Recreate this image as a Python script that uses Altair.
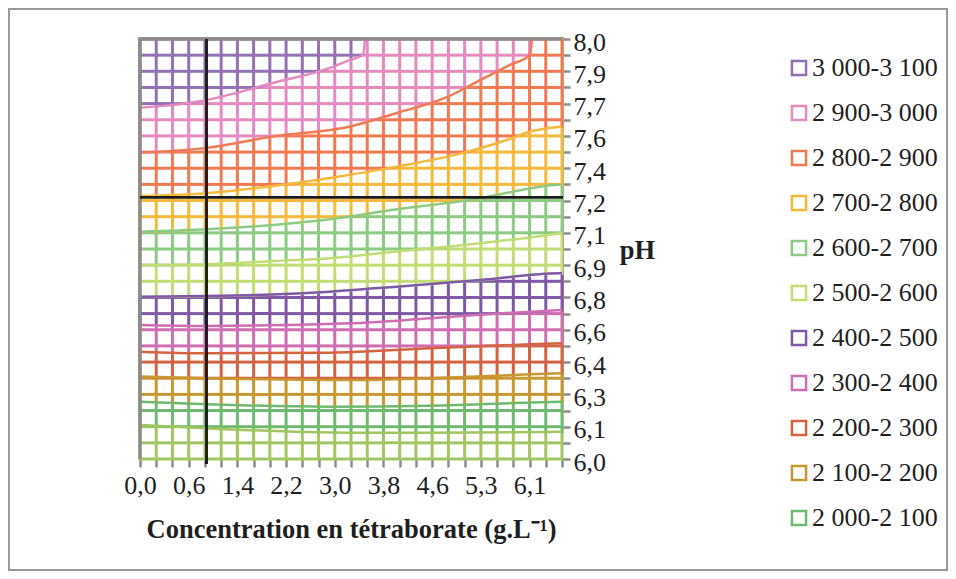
import altair as alt
import pandas as pd

# ---------------- data ----------------
# grid: 27 columns (concentration) x 27 rows (pH), labels on every 3rd column / 2nd row
x_labels = ["0,0", "0,6", "1,4", "2,2", "3,0", "3,8", "4,6", "5,3", "6,1"]
y_labels = ["6,0", "6,1", "6,3", "6,4", "6,6", "6,8", "6,9", "7,1",
            "7,2", "7,4", "7,6", "7,7", "7,9", "8,0"]
n_cols = 27
n_rows = 27

band_labels = ["2 000-2 100", "2 100-2 200", "2 200-2 300", "2 300-2 400",
               "2 400-2 500", "2 500-2 600", "2 600-2 700", "2 700-2 800",
               "2 800-2 900", "2 900-3 000", "3 000-3 100"]
band_colors = ["#6FBA6F", "#C9992F", "#D4643F", "#CF6EB0", "#7F58A6",
               "#C3DC73", "#8DCA84", "#F5BA3B", "#F27A52", "#E68BC0", "#9271B4"]
below_color = "#A3C661"

# contour boundaries (column index, row index), lowest level first
c_2000 = [0, 4.11, 12.94, 17.87, 26]
r_2000 = [2.11, 1.90, 1.63, 1.63, 1.69]
c_2100 = [0, 4.11, 11.7, 17.87, 24.03, 26]
r_2100 = [3.55, 3.39, 3.24, 3.30, 3.49, 3.55]
c_2200 = [0, 4.11, 12.94, 17.87, 24.03, 26]
r_2200 = [5.10, 5.00, 4.89, 5.00, 5.24, 5.31]
c_2300 = [0, 4.11, 11.7, 17.87, 24.03, 26]
r_2300 = [6.64, 6.54, 6.58, 6.85, 7.10, 7.16]
c_2400 = [0, 4.11, 12.94, 17.87, 22.98, 26]
r_2400 = [8.30, 8.24, 8.40, 8.71, 9.06, 9.23]
c_2500 = [0, 4.11, 8.19, 11.7, 15.82, 20.95, 25.88, 26]
r_2500 = [10.05, 10.09, 10.19, 10.36, 10.67, 11.08, 11.50, 11.50]
c_2600 = [0, 4.11, 8.19, 11.7, 15.82, 20.95, 25.88, 26]
r_2600 = [12.01, 12.06, 12.26, 12.43, 12.84, 13.36, 13.98, 14.00]
c_2700 = [0, 4.11, 8.19, 11.7, 15.82, 20.95, 22.98, 25.88, 26]
r_2700 = [14.07, 14.22, 14.49, 14.84, 15.46, 16.14, 16.55, 16.97, 16.97]
c_2800 = [0, 4.11, 8.19, 11.7, 15.82, 19.9, 22.98, 24.03, 24.83, 26]
r_2800 = [16.28, 16.45, 16.90, 17.40, 18.10, 18.95, 19.88, 20.27, 20.43, 20.58]
c_2900 = [0, 4.11, 8.19, 12.94, 15.82, 18.9, 20.95, 22.8, 24.03, 24.15]
r_2900 = [18.97, 19.26, 19.96, 20.58, 21.42, 22.40, 23.45, 24.40, 25.02, 26.0]
c_3000 = [0, 1.42, 4.11, 8.19, 11.7, 12.94, 13.74, 13.86]
r_3000 = [21.75, 21.86, 22.23, 23.28, 24.21, 24.71, 25.02, 26.0]

# reference lines (column index / row index)
ref_col = 4.1
ref_row = 16.2

# ---------------- build tables ----------------
levels = [(c_2000, r_2000), (c_2100, r_2100), (c_2200, r_2200), (c_2300, r_2300),
          (c_2400, r_2400), (c_2500, r_2500), (c_2600, r_2600), (c_2700, r_2700),
          (c_2800, r_2800), (c_2900, r_2900), (c_3000, r_3000)]

top = n_rows - 1
right = n_cols - 1

serif = "Liberation Serif"
txt = "#1f1f1f"
grey = "#8C8C8C"

x_arr = "[" + ",".join("'%s'" % s for s in x_labels) + "]"
y_arr = "[" + ",".join("'%s'" % s for s in y_labels) + "]"

x_axis = alt.Axis(
    values=list(range(n_cols)),
    labelExpr="datum.value % 3 == 0 ? " + x_arr + "[datum.value / 3] : ''",
    labelOverlap=False, labelFlush=False,
    title="Concentration en tétraborate (g.L⁻¹)",
    titleBaseline="alphabetic", titleY=78,
)
y_axis = alt.Axis(
    orient="right",
    values=list(range(n_rows)),
    labelExpr="datum.value % 2 == 0 ? " + y_arr + "[datum.value / 2] : ''",
    labelOverlap=False, labelFlush=False, labelBaseline="middle", labelOffset=3,
    title="pH", titleAngle=0,
    titleX=75, titleY=211, titleAlign="center", titleBaseline="middle",
)
xs = alt.Scale(domain=[0, right], nice=False, zero=False)
ys = alt.Scale(domain=[0, top], nice=False, zero=False)


def X(f="c"):
    return alt.X(f + ":Q", scale=xs, axis=x_axis)


def Y(f="r"):
    return alt.Y(f + ":Q", scale=ys, axis=y_axis)


layers = []

# band 0 (below 2 000) fills the whole floor
base_df = pd.DataFrame({"c": [0, right], "r": [0, 0]})
layers.append(
    alt.Chart(base_df).mark_area(color=below_color, stroke=below_color, strokeWidth=3)
    .encode(x=X(), y=Y(), y2=alt.datum(top))
)
# each higher band painted from its lower contour up to the top
for k, (cc, rr) in enumerate(levels):
    df = pd.DataFrame({"c": cc, "r": rr})
    col = band_colors[k]
    layers.append(
        alt.Chart(df).mark_area(color=col, stroke=col, strokeWidth=3, interpolate="monotone")
        .encode(x=X(), y=Y(), y2=alt.datum(top))
    )

# white cell interiors leave the grid lines in band colours
cells = pd.DataFrame([{"c": i, "c2": i + 1, "r": j, "r2": j + 1}
                      for i in range(right) for j in range(top)])
layers.append(
    alt.Chart(cells).mark_rect(color="white", xOffset=1.5, x2Offset=-1.5,
                               yOffset=-1.5, y2Offset=1.5)
    .encode(x=X(), x2="c2:Q", y=Y(), y2="r2:Q")
)

# contour lines, coloured as the band just below them
lines = []
for k, (cc, rr) in enumerate(levels):
    if k == 0:
        continue
    for c, r in zip(cc, rr):
        lines.append({"c": c, "r": r, "level": k, "band": band_labels[k - 1]})
lines_df = pd.DataFrame(lines)
legend_domain = band_labels[::-1]
legend_range = band_colors[::-1]

layers.append(
    alt.Chart(pd.DataFrame({"c": c_2000, "r": r_2000}))
    .mark_line(color=below_color, strokeWidth=2.5, interpolate="monotone")
    .encode(x=X(), y=Y())
)
layers.append(
    alt.Chart(lines_df).mark_line(strokeWidth=2.5, interpolate="monotone")
    .encode(
        x=X(), y=Y(), detail="level:N",
        stroke=alt.Stroke(
            "band:N",
            scale=alt.Scale(domain=legend_domain, range=legend_range),
            legend=alt.Legend(
                title=None, orient="none", legendX=646, legendY=16,
                direction="vertical", symbolType="square", symbolSize=200,
                symbolStrokeWidth=2.5, symbolFillColor="white",
                labelFont=serif, labelFontSize=26, labelColor=txt,
                labelOffset=0, rowPadding=19, padding=0,
            ),
        ),
    )
)

# grey walls (left and top)
layers.append(
    alt.Chart(base_df).mark_rule(color=grey, strokeWidth=3)
    .encode(x=alt.X(datum=0, scale=xs, axis=x_axis), y=alt.Y(datum=0, scale=ys, axis=y_axis),
            y2=alt.datum(top))
)
layers.append(
    alt.Chart(base_df).mark_rule(color=grey, strokeWidth=3)
    .encode(y=alt.Y(datum=top, scale=ys, axis=y_axis), x=alt.X(datum=0, scale=xs, axis=x_axis),
            x2=alt.datum(right))
)

# black reference lines
layers.append(
    alt.Chart(base_df).mark_rule(color="#1a1a1a", strokeWidth=2.5, yOffset=5)
    .encode(x=alt.X(datum=ref_col, scale=xs, axis=x_axis), y=alt.Y(datum=0, scale=ys, axis=y_axis),
            y2=alt.datum(top))
)
layers.append(
    alt.Chart(base_df).mark_rule(color="#1a1a1a", strokeWidth=2.5, x2Offset=1)
    .encode(y=alt.Y(datum=ref_row, scale=ys, axis=y_axis), x=alt.X(datum=0, scale=xs, axis=x_axis),
            x2=alt.datum(right))
)

# outer frame of the figure
layers.append(
    alt.Chart(base_df).mark_rect(fill=None, stroke="#999999", strokeWidth=2, clip=False)
    .encode(x=alt.value(-131), x2=alt.value(807), y=alt.value(-30), y2=alt.value(531))
)

chart = (
    alt.layer(*layers)
    .properties(width=422, height=420,
                autosize=alt.AutoSizeParams(type="none"),
                padding={"left": 132, "top": 31, "right": 386, "bottom": 112})
    .configure(background="white", font=serif)
    .configure_view(stroke=None)
    .configure_axis(
        domain=False, grid=False,
        tickColor=grey, tickWidth=2.5, tickSize=8,
        labelFont=serif, labelFontSize=26, labelColor=txt,
        labelOverlap=False, labelFlush=False,
        titleFont=serif, titleFontSize=26.5, titleFontWeight="bold", titleColor=txt,
    )
    .configure_axisX(labelPadding=5)
    .configure_axisY(labelPadding=3)
    .configure_legend(labelFont=serif, labelFontSize=26, labelColor=txt)
)

chart.save("out.html", embed_options={"renderer": "svg", "actions": False})
